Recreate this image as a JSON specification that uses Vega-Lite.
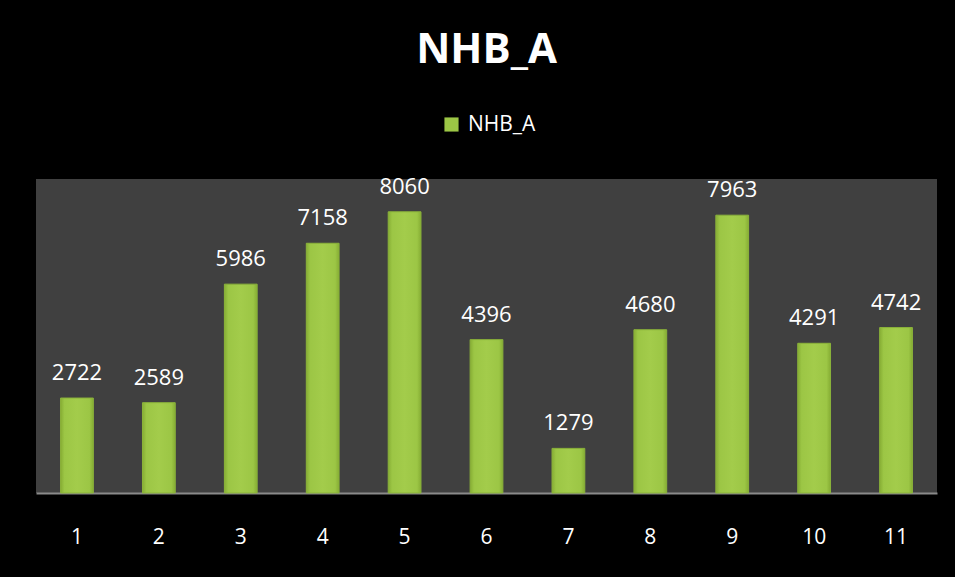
{
  "$schema": "https://vega.github.io/schema/vega-lite/v6.json",
  "autosize": "none",
  "width": 901,
  "height": 314,
  "padding": {"left": 36, "top": 179, "right": 18, "bottom": 84},
  "background": "#000000",
  "title": {
    "text": "NHB_A",
    "font": "Open Sans",
    "fontSize": 42,
    "fontWeight": "bold",
    "color": "#ffffff",
    "anchor": "middle",
    "frame": "group",
    "baseline": "alphabetic",
    "offset": 9
  },
  "config": {
    "view": {"fill": "#404040", "stroke": null},
    "font": "Open Sans"
  },
  "data": {
    "values": [
      {"cat": "1", "value": 2722},
      {"cat": "2", "value": 2589},
      {"cat": "3", "value": 5986},
      {"cat": "4", "value": 7158},
      {"cat": "5", "value": 8060},
      {"cat": "6", "value": 4396},
      {"cat": "7", "value": 1279},
      {"cat": "8", "value": 4680},
      {"cat": "9", "value": 7963},
      {"cat": "10", "value": 4291},
      {"cat": "11", "value": 4742}
    ]
  },
  "encoding": {
    "x": {
      "field": "cat",
      "type": "ordinal",
      "sort": null,
      "scale": {"paddingInner": 0.6, "paddingOuter": 0.3},
      "axis": {
        "title": null,
        "labelAngle": 0,
        "labelColor": "#ffffff",
        "labelFont": "Open Sans",
        "labelFontSize": 21,
        "ticks": false,
        "tickSize": 0,
        "labelPadding": 50,
        "labelBaseline": "alphabetic",
        "domainColor": "#8a8a8a",
        "domainWidth": 2,
        "grid": false
      }
    },
    "y": {
      "field": "value",
      "type": "quantitative",
      "scale": {"domain": [0, 9000], "nice": false},
      "axis": null
    }
  },
  "layer": [
    {
      "mark": {
        "type": "bar",
        "color": {
          "gradient": "linear",
          "x1": 0, "y1": 0, "x2": 1, "y2": 0,
          "stops": [
            {"offset": 0, "color": "#86ad34"},
            {"offset": 0.12, "color": "#9cc645"},
            {"offset": 0.5, "color": "#a3cc4b"},
            {"offset": 0.88, "color": "#9cc645"},
            {"offset": 1, "color": "#86ad34"}
          ]
        },
        "stroke": "#8bb33a",
        "strokeWidth": 1
      }
    },
    {
      "mark": {
        "type": "text",
        "color": "#ffffff",
        "font": "Open Sans",
        "fontSize": 22,
        "baseline": "alphabetic",
        "dy": -18
      },
      "encoding": {
        "text": {"field": "value", "type": "quantitative", "format": "d"}
      }
    },
    {
      "mark": {"type": "square", "opacity": 0},
      "encoding": {
        "y": {"datum": 0},
        "color": {
          "datum": "NHB_A",
          "scale": {"range": ["#9cc645"]},
          "legend": {
            "title": null,
            "orient": "none",
            "legendX": 405,
            "legendY": -65,
            "padding": 0,
            "symbolType": "square",
            "symbolSize": 200,
            "symbolOpacity": 1,
            "symbolStrokeWidth": 0,
            "labelColor": "#ffffff",
            "labelFont": "Open Sans",
            "labelFontSize": 21,
            "labelOffset": 6
          }
        }
      }
    }
  ]
}
